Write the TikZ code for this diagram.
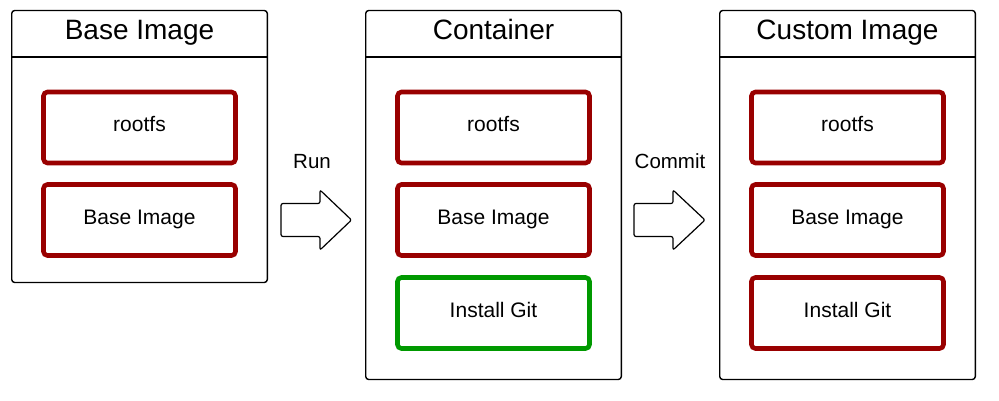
\documentclass[tikz,border=0pt]{standalone}
\usepackage{fontspec}
\setmainfont{Liberation Sans}
\definecolor{layerred}{RGB}{153,0,0}
\definecolor{layergreen}{RGB}{0,153,0}
\begin{document}
\begin{tikzpicture}[x=1pt,y=-1pt,
  panel/.style={draw=black, line width=1.4pt, rounded corners=3pt, minimum width=255.6pt, inner sep=0pt},
  headline/.style={draw=black, line width=1.2pt},
  title/.style={font=\fontsize{28}{32}\selectfont, inner sep=0pt, anchor=base},
  layer/.style={draw=layerred, line width=4.6pt, rounded corners=4pt, fill=white,
    minimum width=192pt, minimum height=71pt, inner sep=0pt, text height=12pt, text depth=3pt,
    font=\fontsize{21}{24}\selectfont},
  newlayer/.style={layer, draw=layergreen},
  lbl/.style={font=\fontsize{20.5}{24}\selectfont, inner sep=0pt, anchor=base},
  bigarrow/.style={draw=black, line width=1.2pt, rounded corners=2pt, fill=white}
]
\useasboundingbox (0,0) rectangle (999,401);

% Panels
\node[panel, minimum height=272pt] (p1) at (139.5,146.5) {};
\node[panel, minimum height=369pt] (p2) at (493.5,195) {};
\node[panel, minimum height=369pt] (p3) at (847.5,195) {};

\draw[headline] (11,57) -- (268,57);
\draw[headline] (365,57) -- (622,57);
\draw[headline] (719,57) -- (976,57);

\node[title] (t1) at (139.5,40) {Base Image};
\node[title] (t2) at (493.5,40) {Container};
\node[title] (t3) at (847.5,40) {Custom Image};

% Layers
\node[layer] (a1) at (139.5,127.5) {rootfs};
\node[layer] (a2) at (139.5,220) {Base Image};

\node[layer] (b1) at (493.5,127.5) {rootfs};
\node[layer] (b2) at (493.5,220) {Base Image};
\node[newlayer] (b3) at (493.5,313) {Install Git};

\node[layer] (c1) at (847.5,127.5) {rootfs};
\node[layer] (c2) at (847.5,220) {Base Image};
\node[layer] (c3) at (847.5,313) {Install Git};

% Arrows
\draw[bigarrow] (281,203.5) -- (320,203.5) -- (320,190) -- (351.5,220) -- (320,250) -- (320,236.5) -- (281,236.5) -- cycle;
\node[lbl] (run) at (312,168) {Run};

\draw[bigarrow] (634,203.5) -- (673,203.5) -- (673,190) -- (705,220) -- (673,250) -- (673,236.5) -- (634,236.5) -- cycle;
\node[lbl] (commit) at (670,168) {Commit};
\end{tikzpicture}
\end{document}
